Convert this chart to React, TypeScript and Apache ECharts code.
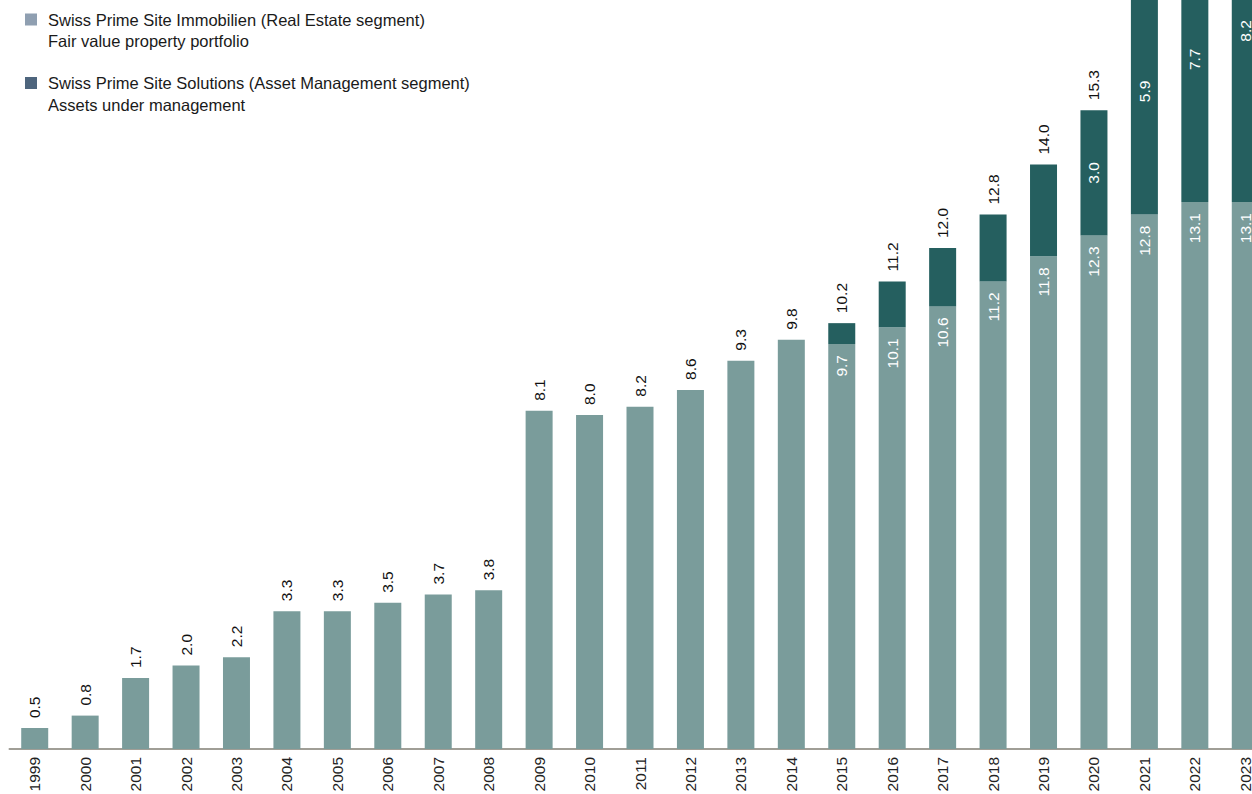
import React, { useEffect, useRef } from "react";
import * as echarts from "echarts";

const years = [
  "1999", "2000", "2001", "2002", "2003", "2004", "2005", "2006", "2007", "2008",
  "2009", "2010", "2011", "2012", "2013", "2014", "2015", "2016", "2017", "2018",
  "2019", "2020", "2021", "2022", "2023",
];
const realEstate = [
  0.5, 0.8, 1.7, 2.0, 2.2, 3.3, 3.3, 3.5, 3.7, 3.8,
  8.1, 8.0, 8.2, 8.6, 9.3, 9.8, 9.7, 10.1, 10.6, 11.2,
  11.8, 12.3, 12.8, 13.1, 13.1,
];
const assetManagement = [
  null, null, null, null, null, null, null, null, null, null,
  null, null, null, null, null, null, 0.5, 1.1, 1.4, 1.6,
  2.2, 3.0, 5.9, 7.7, 8.2,
];
const reInsideLabelYears = ["2015", "2016", "2017", "2018", "2019", "2020", "2021", "2022", "2023"];
const amInsideLabelYears = ["2020", "2021", "2022", "2023"];

const legendItems = [
  { title: "Swiss Prime Site Immobilien (Real Estate segment)", sub: "Fair value property portfolio", color: "#8f9fb1" },
  { title: "Swiss Prime Site Solutions (Asset Management segment)", sub: "Assets under management", color: "#4e657d" },
];

const FONT = "'Liberation Sans', Arial, Helvetica, sans-serif";
const LIGHT = "#7a9c9b";
const DARK = "#255f5f";
const NUM_SIZE = 15.5;

export default function App() {
  const ref = useRef<HTMLDivElement>(null);
  useEffect(() => {
    if (!ref.current) return;
    const chart = echarts.init(ref.current, null, { renderer: "svg" });
    const totals = realEstate.map((v, i) => v + (assetManagement[i] ?? 0));

    const graphics: any[] = [];
    const legendY = [[19.5, 40.5], [83, 104.5]];
    legendItems.forEach((it, k) => {
      graphics.push({
        type: "rect",
        shape: { x: 25, y: legendY[k][0] - 6, width: 12, height: 12 },
        style: { fill: it.color },
      });
      graphics.push({
        type: "text",
        x: 48,
        y: legendY[k][0],
        style: { text: it.title, font: `16.5px ${FONT}`, fill: "#1a1a1a", verticalAlign: "middle" },
      });
      graphics.push({
        type: "text",
        x: 48,
        y: legendY[k][1],
        style: { text: it.sub, font: `16.5px ${FONT}`, fill: "#1a1a1a", verticalAlign: "middle" },
      });
    });

    chart.setOption({
      animation: false,
      textStyle: { fontFamily: FONT },
      grid: { left: 9.5, width: 1261, top: 0, height: 749, containLabel: false, outerBoundsMode: "none" },
      graphic: graphics,
      xAxis: {
        type: "category",
        data: years,
        axisLine: { show: true, lineStyle: { color: "#a09e96", width: 2 } },
        axisTick: { show: false },
        axisLabel: { rotate: 90, fontSize: NUM_SIZE, color: "#222", margin: 8, fontFamily: FONT, interval: 0 },
      },
      yAxis: {
        type: "value",
        min: 0,
        max: 17.94,
        show: false,
        splitLine: { show: false },
      },
      series: [
        {
          name: "Real Estate",
          type: "bar",
          stack: "a",
          barWidth: 27,
          barGap: "-100%",
          itemStyle: { color: LIGHT },
          clip: false,
          z: 3,
          data: realEstate.map((v, i) => ({
            value: v,
            label: { show: reInsideLabelYears.includes(years[i]) },
          })),
          label: {
            position: "insideTop",
            rotate: 90,
            align: "right",
            verticalAlign: "middle",
            distance: 11,
            color: "#fff",
            fontSize: NUM_SIZE,
            fontFamily: FONT,
            formatter: (p: any) => Number(p.value).toFixed(1),
          },
        },
        {
          name: "Asset Management",
          type: "bar",
          stack: "a",
          barWidth: 27,
          barGap: "-100%",
          itemStyle: { color: DARK },
          clip: false,
          z: 3,
          data: assetManagement.map((v, i) => ({
            value: v,
            label: {
              show: amInsideLabelYears.includes(years[i]),
              offset: years[i] === "2022" ? [-18, 0] : [0, 0],
            },
          })),
          label: {
            position: "inside",
            rotate: 90,
            align: "center",
            verticalAlign: "middle",
            color: "#fff",
            fontSize: NUM_SIZE,
            fontFamily: FONT,
            formatter: (p: any) => (p.value == null ? "" : Number(p.value).toFixed(1)),
          },
        },
        {
          name: "Total",
          type: "bar",
          barWidth: 27,
          barGap: "-100%",
          silent: true,
          clip: false,
          z: 4,
          itemStyle: { color: "rgba(0,0,0,0)" },
          data: totals,
          label: {
            show: true,
            position: "top",
            rotate: 90,
            align: "left",
            verticalAlign: "middle",
            distance: 10,
            color: "#111",
            fontSize: NUM_SIZE,
            fontFamily: FONT,
            formatter: (p: any) => Number(p.value).toFixed(1),
          },
        },
      ],
    });
    return () => chart.dispose();
  }, []);
  return (
    <div
      ref={ref}
      style={{ position: "absolute", left: 0, top: 0, width: 1252, height: 794, background: "#fff" }}
    />
  );
}
